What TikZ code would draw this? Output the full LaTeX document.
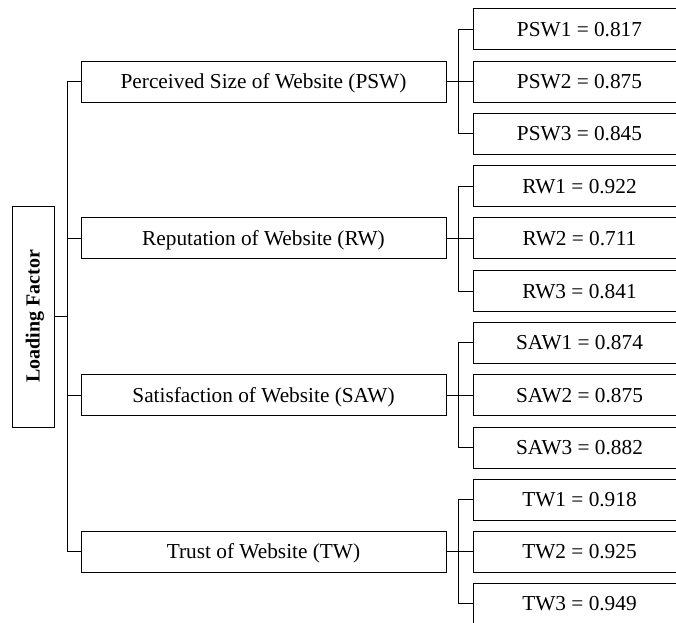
\documentclass[tikz,border=0pt]{standalone}
\usepackage{fontspec}
\setmainfont{Liberation Serif}
\begin{document}
\begin{tikzpicture}[x=1pt,y=-1pt,
  box/.style={draw=black, line width=1pt, rectangle, inner sep=0pt, anchor=center},
  midbox/.style={box, minimum width=365pt, minimum height=41pt, text height=14.1pt, text depth=0pt, font=\fontsize{21.3}{24}\selectfont},
  leafbox/.style={box, minimum width=213pt, minimum height=41pt, text height=14.1pt, text depth=0pt, font=\fontsize{21.3}{24}\selectfont},
  link/.style={line width=1pt, draw=black}]
\useasboundingbox (0,0) rectangle (676,622);
\clip (0,0) rectangle (676,622);
% root
\node[box, minimum width=42pt, minimum height=221pt] (lf) at (33,316.5) {};
\node[rotate=90, text height=13.4pt, text depth=0pt, font=\bfseries\fontsize{20}{24}\selectfont] (lft) at (lf.center) {Loading Factor};
% groups
\node[midbox] (g1) at (263.5,81.5) {Perceived Size of Website (PSW)};
\node[midbox] (g2) at (263.5,238) {Reputation of Website (RW)};
\node[midbox] (g3) at (263.5,395) {Satisfaction of Website (SAW)};
\node[midbox] (g4) at (263.5,551.5) {Trust of Website (TW)};
% leaves
\node[leafbox] (c11) at (579.5,29) {PSW1 = 0.817};
\node[leafbox] (c12) at (579.5,81.5) {PSW2 = 0.875};
\node[leafbox] (c13) at (579.5,133.5) {PSW3 = 0.845};
\node[leafbox] (c21) at (579.5,186) {RW1 = 0.922};
\node[leafbox] (c22) at (579.5,238) {RW2 = 0.711};
\node[leafbox] (c23) at (579.5,291) {RW3 = 0.841};
\node[leafbox] (c31) at (579.5,342.5) {SAW1 = 0.874};
\node[leafbox] (c32) at (579.5,395) {SAW2 = 0.875};
\node[leafbox] (c33) at (579.5,447.5) {SAW3 = 0.882};
\node[leafbox] (c41) at (579.5,499.5) {TW1 = 0.918};
\node[leafbox] (c42) at (579.5,551.5) {TW2 = 0.925};
\node[leafbox] (c43) at (579.5,603.5) {TW3 = 0.949};
% trunk
\coordinate (tt) at (67,81.5);
\coordinate (tb) at (67,551.5);
\draw[link] (tt) -- (tb);
\draw[link] (lf.east) -- (lf.east -| tt);
\foreach \g in {g1,g2,g3,g4}{
  \draw[link] (\g.west) -- (\g.west -| tt);
}
% brackets
\foreach \k in {1,2,3,4}{
  \draw[link] (g\k.east) -- (c\k2.west);
  \draw[link] (c\k1.west) -- ++(-14,0) |- (c\k3.west);
}
\end{tikzpicture}
\end{document}
